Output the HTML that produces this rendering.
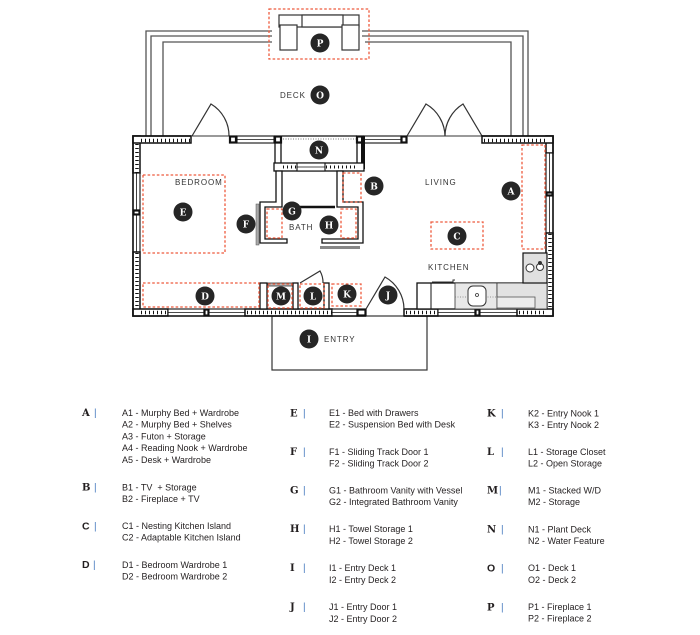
<!DOCTYPE html>
<html>
<head>
<meta charset="utf-8">
<style>
  html,body{margin:0;padding:0;background:#fff;}
  svg{display:block;}
  .w{fill:#fff;stroke:#111;stroke-width:1.5}
  .tk{stroke:#111;stroke-width:3.5;stroke-dasharray:1 3;fill:none}
  .win{fill:#fff;stroke:#111;stroke-width:1.1}
  .post{fill:#fff;stroke:#111;stroke-width:2.2}
  .ml{stroke:#111;stroke-width:0.8}
  .ds{fill:none;stroke:#ee5b3d;stroke-width:1.3;stroke-dasharray:2.6 2}
  .rail{fill:none;stroke:#555;stroke-width:1.3}
  .iw{fill:#fff;stroke:#111;stroke-width:1.3}
  .door{fill:none;stroke:#333;stroke-width:1.2}
  .lbl{font-family:"Liberation Sans",sans-serif;font-size:8px;letter-spacing:0.9px;fill:#333}
  .cc{fill:#262626}
  .cl{font-family:"DejaVu Serif",serif;font-weight:bold;font-size:9px;fill:#fff;text-anchor:middle}
  .lg{font-family:"Liberation Sans",sans-serif;font-size:9px;fill:#231f20}
  .lk{font-family:"DejaVu Serif",serif;font-weight:bold;font-size:10px;fill:#231f20}
  .lks{font-family:"Liberation Sans",sans-serif;font-weight:bold;font-size:10.5px;fill:#231f20}
  .bar{font-family:"Liberation Sans",sans-serif;font-size:10px;fill:#4a7cc0}
</style>
</head>
<body>
<svg width="700" height="635" viewBox="0 0 700 635" xmlns="http://www.w3.org/2000/svg">
  <rect x="0" y="0" width="700" height="635" fill="#fff"/>

  <!-- Deck rails -->
  <path class="rail" d="M146 136 V31 H272 M362 31 H528 V136 M151 136 V36 H272 M362 36 H523 V136 M163 136 V42 H272 M365 42 H511 V136"/>

  <!-- Fireplace -->
  <g fill="#fff" stroke="#333" stroke-width="1.2">
    <rect x="279" y="15" width="80" height="12"/>
    <rect x="302" y="15" width="41" height="12"/>
    <rect x="280" y="25" width="17" height="25"/>
    <rect x="342" y="25" width="17" height="25"/>
  </g>
  <rect class="ds" x="269" y="9" width="100" height="50"/>

  <!-- Doors on deck side -->
  <path class="door" d="M192 136 L211 104 A37 37 0 0 1 229 136"/>
  <path class="door" d="M407 136 L426 104 A38 38 0 0 1 445 136 M482 136 L463 104 A38 38 0 0 0 445 136"/>

  <!-- Entry deck -->
  <rect x="272" y="316" width="155" height="54" fill="none" stroke="#333" stroke-width="1.2"/>

  <!-- Left wall -->
  <rect class="w" x="133" y="136" width="7" height="37"/>
  <line class="tk" x1="137" y1="144" x2="137" y2="173"/>
  <rect class="win" x="133" y="173" width="7" height="37"/><line class="ml" x1="136.5" y1="173" x2="136.5" y2="210"/>
  <rect class="post" x="133.5" y="210.5" width="6" height="4"/>
  <rect class="win" x="133" y="215" width="7" height="37"/><line class="ml" x1="136.5" y1="215" x2="136.5" y2="252"/>
  <rect class="w" x="133" y="252" width="7" height="64"/>
  <line class="tk" x1="137" y1="253" x2="137" y2="308"/>

  <!-- Right wall -->
  <rect class="w" x="546" y="136" width="7" height="17"/>
  <rect class="win" x="546" y="153" width="7" height="39"/><line class="ml" x1="549.5" y1="153" x2="549.5" y2="192"/>
  <rect class="post" x="546.5" y="192.5" width="6" height="3"/>
  <rect class="win" x="546" y="196" width="7" height="37"/><line class="ml" x1="549.5" y1="196" x2="549.5" y2="233"/>
  <rect class="w" x="546" y="233" width="7" height="83"/>
  <line class="tk" x1="550" y1="234" x2="550" y2="308"/>

  <!-- Top wall -->
  <rect class="w" x="133" y="136" width="58" height="7"/>
  <line class="tk" x1="141" y1="140.5" x2="191" y2="140.5"/>
  <line x1="191" y1="136" x2="230" y2="136" stroke="#333" stroke-width="1"/>
  <rect class="post" x="230" y="136.5" width="6" height="6"/>
  <rect class="win" x="237" y="136" width="37" height="7"/><line class="ml" x1="237" y1="139.5" x2="274" y2="139.5"/>
  <rect class="post" x="275" y="136.5" width="6" height="6"/>
  <line x1="282" y1="136" x2="357" y2="136" stroke="#111" stroke-width="1.2"/>
  <line x1="283" y1="139" x2="356" y2="139" stroke="#777" stroke-width="1" stroke-dasharray="1 1.5"/>
  <rect class="post" x="357" y="136.5" width="6" height="6"/>
  <rect class="win" x="364" y="136" width="37" height="7"/><line class="ml" x1="364" y1="139.5" x2="401" y2="139.5"/>
  <rect class="post" x="401.5" y="136.5" width="5" height="6"/>
  <line x1="407" y1="136" x2="482" y2="136" stroke="#333" stroke-width="1"/>
  <rect class="w" x="482" y="136" width="71" height="7"/>
  <line class="tk" x1="484" y1="140.5" x2="546" y2="140.5"/>

  <!-- Bottom wall -->
  <rect class="w" x="133" y="309" width="35" height="7"/>
  <line class="tk" x1="141" y1="312.5" x2="168" y2="312.5"/>
  <rect class="win" x="168" y="309" width="36" height="7"/><line class="ml" x1="168" y1="312.5" x2="204" y2="312.5"/>
  <rect class="post" x="204.5" y="309.5" width="4" height="6"/>
  <rect class="win" x="209" y="309" width="36" height="7"/><line class="ml" x1="209" y1="312.5" x2="245" y2="312.5"/>
  <rect class="w" x="245" y="309" width="87" height="7"/>
  <line class="tk" x1="247" y1="312.5" x2="332" y2="312.5"/>
  <rect class="win" x="332" y="309" width="25" height="7"/><line class="ml" x1="332" y1="312.5" x2="357" y2="312.5"/>
  <rect class="post" x="357.5" y="309.5" width="8" height="6"/>
  <rect class="w" x="404" y="309" width="34" height="7"/>
  <line class="tk" x1="406" y1="312.5" x2="438" y2="312.5"/>
  <rect class="win" x="438" y="309" width="37" height="7"/><line class="ml" x1="438" y1="312.5" x2="475" y2="312.5"/>
  <rect class="post" x="475.5" y="309.5" width="4" height="6"/>
  <rect class="win" x="480" y="309" width="37" height="7"/><line class="ml" x1="480" y1="312.5" x2="517" y2="312.5"/>
  <rect class="w" x="517" y="309" width="36" height="7"/>
  <line class="tk" x1="519" y1="312.5" x2="546" y2="312.5"/>

  <!-- Outer outline -->
  <path d="M191 136 H133 V316 H366 M404 316 H553 V136 H482" fill="none" stroke="#111" stroke-width="1.6"/>

  <!-- N planter walls -->
  <rect class="iw" x="275" y="143" width="6" height="21"/>
  <rect class="iw" x="357" y="143" width="6" height="21"/>
  <rect x="361" y="136" width="4" height="33" fill="#111"/>
  <rect class="iw" x="274" y="163" width="90" height="8"/>
  <line class="tk" x1="283" y1="167" x2="297" y2="167" style="stroke-width:3"/>
  <rect class="win" x="297" y="163" width="28" height="8"/><line class="ml" x1="297" y1="167" x2="325" y2="167"/>
  <line class="tk" x1="326" y1="167" x2="356" y2="167" style="stroke-width:3"/>

  <!-- Bath walls -->
  <polygon class="iw" points="276,171 282,171 282,207 265,207 265,239 287,239 287,243 260,243 260,202 276,202"/>
  <polygon class="iw" points="337,171 343,171 343,202 363,202 363,243 322,243 322,239 358,239 358,207 337,207"/>
  <line x1="300" y1="207" x2="335" y2="207" stroke="#111" stroke-width="2.5"/>
  <rect x="256" y="204" width="3" height="41" fill="#aaa" stroke="#555" stroke-width="0.5"/>
  <rect x="320" y="246" width="40" height="3" fill="#888"/>

  <!-- Closets bottom -->
  <rect class="iw" x="260" y="283" width="7" height="26"/>
  <rect x="268" y="283" width="25" height="3" fill="#bbb" stroke="#333" stroke-width="0.8"/>
  <rect class="iw" x="293" y="283" width="5" height="26"/>
  <rect class="iw" x="324" y="283" width="5" height="26"/>
  <path class="door" d="M300 283 L320 271 A23 23 0 0 1 323 283"/>

  <!-- Entry door J -->
  <path class="door" d="M366 309 L385 277 A37 37 0 0 1 404 309"/>

  <!-- Kitchen counter -->
  <rect x="417" y="283" width="130" height="26" fill="#fff" stroke="#111" stroke-width="1.3"/>
  <rect x="455" y="283" width="42" height="26" fill="#e8e8e8" stroke="#333" stroke-width="0.8"/>
  <rect x="497" y="283" width="50" height="26" fill="#e2e2e2" stroke="#333" stroke-width="0.8"/>
  <rect x="497" y="297" width="38" height="11" fill="#ececec" stroke="#555" stroke-width="0.8"/>
  <line x1="431" y1="283" x2="431" y2="309" stroke="#111" stroke-width="1"/>
  <path d="M432 282 H453 V280 H455" fill="none" stroke="#333" stroke-width="1"/>
  <line x1="455" y1="297" x2="497" y2="297" stroke="#777" stroke-width="0.8" stroke-dasharray="1 1.5"/>
  <rect x="468" y="286" width="18" height="20" rx="5" fill="#fff" stroke="#333" stroke-width="1"/>
  <circle cx="477" cy="295" r="1.5" fill="none" stroke="#333" stroke-width="0.8"/>
  <!-- Stove -->
  <rect x="523" y="253" width="24" height="30" fill="#e0e0e0" stroke="#111" stroke-width="1.2"/>
  <circle cx="530" cy="268" r="4" fill="#fff" stroke="#333" stroke-width="1"/>
  <circle cx="540" cy="267" r="3.5" fill="#fff" stroke="#333" stroke-width="1"/>
  <circle cx="540" cy="263" r="2" fill="#333"/>

  <!-- Dashed furniture boxes -->
  <rect class="ds" x="143" y="175" width="82" height="78"/>
  <rect class="ds" x="143" y="283" width="116" height="24"/>
  <rect class="ds" x="268" y="284" width="24" height="24"/>
  <rect class="ds" x="300" y="284" width="24" height="24"/>
  <rect class="ds" x="332" y="284" width="29" height="22"/>
  <rect class="ds" x="522" y="145" width="23" height="104"/>
  <rect class="ds" x="431" y="222" width="52" height="27"/>
  <rect class="ds" x="343" y="173" width="18" height="29"/>
  <rect class="ds" x="267" y="209" width="15" height="29"/>
  <rect class="ds" x="341" y="209" width="15" height="29"/>

  <!-- Room labels -->
  <text class="lbl" x="175" y="185">BEDROOM</text>
  <text class="lbl" x="425" y="185">LIVING</text>
  <text class="lbl" x="428" y="270">KITCHEN</text>
  <text class="lbl" x="289" y="230">BATH</text>
  <text class="lbl" x="280" y="98">DECK</text>
  <text class="lbl" x="324" y="342">ENTRY</text>

  <!-- Marker circles -->
  <g>
    <circle class="cc" cx="320" cy="43" r="9.5"/><text class="cl" x="320" y="46.5">P</text>
    <circle class="cc" cx="320" cy="95" r="9.5"/><text class="cl" x="320" y="98.5">O</text>
    <circle class="cc" cx="319" cy="150" r="9.5"/><text class="cl" x="319" y="153.5">N</text>
    <circle class="cc" cx="374" cy="186" r="9.5"/><text class="cl" x="374" y="189.5">B</text>
    <circle class="cc" cx="511" cy="191" r="9.5"/><text class="cl" x="511" y="194.5">A</text>
    <circle class="cc" cx="183" cy="212" r="9.5"/><text class="cl" x="183" y="215.5">E</text>
    <circle class="cc" cx="246" cy="224" r="9.5"/><text class="cl" x="246" y="227.5">F</text>
    <circle class="cc" cx="292" cy="211" r="9.5"/><text class="cl" x="292" y="214.5">G</text>
    <circle class="cc" cx="329" cy="225" r="9.5"/><text class="cl" x="329" y="228.5">H</text>
    <circle class="cc" cx="457" cy="236" r="9.5"/><text class="cl" x="457" y="239.5">C</text>
    <circle class="cc" cx="205" cy="296" r="9.5"/><text class="cl" x="205" y="299.5">D</text>
    <circle class="cc" cx="281" cy="296" r="9.5"/><text class="cl" x="281" y="299.5">M</text>
    <circle class="cc" cx="313" cy="296" r="9.5"/><text class="cl" x="313" y="299.5">L</text>
    <circle class="cc" cx="347" cy="294" r="9.5"/><text class="cl" x="347" y="297.5">K</text>
    <circle class="cc" cx="388" cy="295" r="9.5"/><text class="cl" x="388" y="298.5">J</text>
    <circle class="cc" cx="309" cy="339" r="9.5"/><text class="cl" x="309" y="342.5">I</text>
  </g>

  <!-- Legend column 1 -->
  <text class="lk" x="82" y="416">A</text><text class="bar" x="94" y="416">|</text>
  <text class="lg" x="122" y="415.8">A1 - Murphy Bed + Wardrobe</text>
  <text class="lg" x="122" y="427.6">A2 - Murphy Bed + Shelves</text>
  <text class="lg" x="122" y="439.4">A3 - Futon + Storage</text>
  <text class="lg" x="122" y="451.2">A4 - Reading Nook + Wardrobe</text>
  <text class="lg" x="122" y="463">A5 - Desk + Wardrobe</text>

  <text class="lk" x="82" y="490.5">B</text><text class="bar" x="94" y="490.5">|</text>
  <text class="lg" x="122" y="490.3">B1 - TV&#160; + Storage</text>
  <text class="lg" x="122" y="501.9">B2 - Fireplace + TV</text>

  <text class="lks" x="82" y="529.3">C</text><text class="bar" x="94" y="529.3">|</text>
  <text class="lg" x="122" y="529">C1 - Nesting Kitchen Island</text>
  <text class="lg" x="122" y="540.6">C2 - Adaptable Kitchen Island</text>

  <text class="lks" x="82" y="568">D</text><text class="bar" x="93" y="568">|</text>
  <text class="lg" x="122" y="567.8">D1 - Bedroom Wardrobe 1</text>
  <text class="lg" x="122" y="579.3">D2 - Bedroom Wardrobe 2</text>

  <!-- Legend column 2 -->
  <text class="lk" x="290" y="416.5">E</text><text class="bar" x="303" y="416.5">|</text>
  <text class="lg" x="329" y="416.1">E1 - Bed with Drawers</text>
  <text class="lg" x="329" y="427.7">E2 - Suspension Bed with Desk</text>

  <text class="lk" x="290" y="455">F</text><text class="bar" x="303" y="455">|</text>
  <text class="lg" x="329" y="454.8">F1 - Sliding Track Door 1</text>
  <text class="lg" x="329" y="466.3">F2 - Sliding Track Door 2</text>

  <text class="lk" x="290" y="493.5">G</text><text class="bar" x="303" y="493.5">|</text>
  <text class="lg" x="329" y="493.3">G1 - Bathroom Vanity with Vessel</text>
  <text class="lg" x="329" y="505">G2 - Integrated Bathroom Vanity</text>

  <text class="lk" x="290" y="532">H</text><text class="bar" x="303" y="532">|</text>
  <text class="lg" x="329" y="531.8">H1 - Towel Storage 1</text>
  <text class="lg" x="329" y="543.8">H2 - Towel Storage 2</text>

  <text class="lk" x="290" y="571">I</text><text class="bar" x="303" y="571">|</text>
  <text class="lg" x="329" y="570.8">I1 - Entry Deck 1</text>
  <text class="lg" x="329" y="582.8">I2 - Entry Deck 2</text>

  <text class="lk" x="290" y="610">J</text><text class="bar" x="303" y="610">|</text>
  <text class="lg" x="329" y="609.8">J1 - Entry Door 1</text>
  <text class="lg" x="329" y="621.8">J2 - Entry Door 2</text>

  <!-- Legend column 3 -->
  <text class="lk" x="487" y="416.5">K</text><text class="bar" x="501" y="416.5">|</text>
  <text class="lg" x="528" y="416.3">K2 - Entry Nook 1</text>
  <text class="lg" x="528" y="428">K3 - Entry Nook 2</text>

  <text class="lk" x="487" y="455">L</text><text class="bar" x="501" y="455">|</text>
  <text class="lg" x="528" y="455">L1 - Storage Closet</text>
  <text class="lg" x="528" y="466.3">L2 - Open Storage</text>

  <text class="lk" x="487" y="493.5">M</text><text class="bar" x="499" y="493.5">|</text>
  <text class="lg" x="528" y="493.3">M1 - Stacked W/D</text>
  <text class="lg" x="528" y="504.8">M2 - Storage</text>

  <text class="lk" x="487" y="532.5">N</text><text class="bar" x="501" y="532.5">|</text>
  <text class="lg" x="528" y="532.3">N1 - Plant Deck</text>
  <text class="lg" x="528" y="544">N2 - Water Feature</text>

  <text class="lks" x="487" y="571.3">O</text><text class="bar" x="501" y="571.3">|</text>
  <text class="lg" x="528" y="571">O1 - Deck 1</text>
  <text class="lg" x="528" y="583">O2 - Deck 2</text>

  <text class="lk" x="487" y="610.3">P</text><text class="bar" x="501" y="610.3">|</text>
  <text class="lg" x="528" y="610">P1 - Fireplace 1</text>
  <text class="lg" x="528" y="621.3">P2 - Fireplace 2</text>
</svg>
</body>
</html>
